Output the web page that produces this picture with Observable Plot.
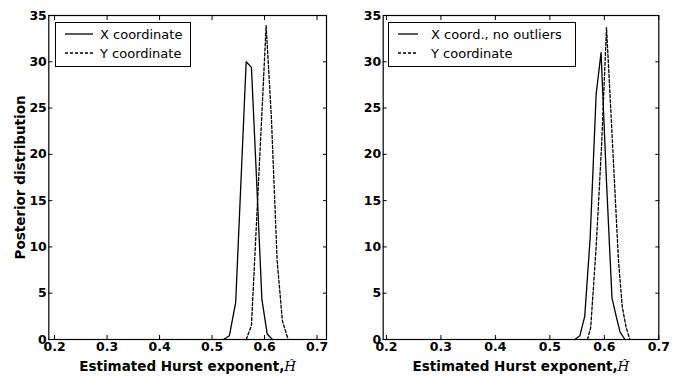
<!DOCTYPE html>
<html><head><meta charset="utf-8">
<script src="https://cdn.jsdelivr.net/npm/d3@7"></script>
<script src="https://cdn.jsdelivr.net/npm/@observablehq/plot@0.6"></script>
<style>
body{margin:0;background:#fff;}
#wrap{position:relative;width:682px;height:377px;display:flex;font-family:"DejaVu Sans",sans-serif;overflow:hidden;}
#wrap svg{display:block;}
.legend{position:absolute;}
</style></head>
<body><div id="wrap"></div>
<script>
const xTicks = [0.2, 0.3, 0.4, 0.5, 0.6, 0.7];
const yTicks = [0, 5, 10, 15, 20, 25, 30, 35];
const xLabel = "Estimated Hurst exponent,";
const hatSymbol = "Ĥ";
const yLabel = "Posterior distribution";

// Left panel
const leftSolidH = [0.522, 0.533, 0.545, 0.555, 0.565, 0.575, 0.585, 0.595, 0.605, 0.615];
const leftSolidV = [0, 0.4, 4, 17, 30, 29.4, 17, 4.3, 0.6, 0];
const leftDotH = [0.565, 0.575, 0.585, 0.595, 0.603, 0.613, 0.624, 0.634, 0.645];
const leftDotV = [0, 1.5, 13, 24.5, 33.9, 24, 8.5, 2, 0];
const leftNames = ["X coordinate", "Y coordinate"];

// Right panel
const rightSolidH = [0.546, 0.555, 0.564, 0.574, 0.585, 0.594, 0.604, 0.614, 0.623, 0.629, 0.638];
const rightSolidV = [0, 0.4, 2.5, 11, 26.5, 31, 17, 4.5, 2.2, 0.8, 0];
const rightDotH = [0.569, 0.575, 0.585, 0.595, 0.604, 0.613, 0.626, 0.633, 0.640, 0.647];
const rightDotV = [0, 1.3, 10, 21, 33.7, 23.5, 8.5, 3.5, 1.3, 0];
const rightNames = ["X coord., no outliers", "Y coordinate"];

const zip = (h, v) => h.map((d, i) => ({h: d, v: v[i]}));
const blank = () => "";

function panel({xDomain, marginLeft, marginRight, solid, dotted, showYLabel}) {
  const marks = [
    Plot.line(solid, {x: "h", y: "v", stroke: "black", strokeWidth: 1.3}),
    Plot.line(dotted, {x: "h", y: "v", stroke: "black", strokeWidth: 1.3, strokeDasharray: "3,2"}),
    Plot.frame({stroke: "black", strokeWidth: 1.2}),
    // inward ticks on all four sides
    Plot.axisX(xTicks, {anchor: "bottom", tickSize: 4, dy: -4, tickFormat: blank, label: null}),
    Plot.axisX(xTicks, {anchor: "top", tickSize: 4, dy: 4, tickFormat: blank, label: null}),
    Plot.axisY(yTicks, {anchor: "left", tickSize: 4, dx: 4, tickFormat: blank, label: null}),
    Plot.axisY(yTicks, {anchor: "right", tickSize: 4, dx: -4, tickFormat: blank, label: null}),
    // tick labels
    Plot.axisX(xTicks, {anchor: "bottom", tickSize: 0, tickPadding: 3, tickFormat: d3.format(".1f"), fontSize: 12.5, fontWeight: "bold", label: null}),
    Plot.axisY(yTicks, {anchor: "left", tickSize: 0, tickPadding: 2, tickFormat: d3.format("d"), fontSize: 12.5, fontWeight: "bold", label: null}),
    Plot.text([xLabel + hatSymbol], {frameAnchor: "bottom", dy: 27, fontSize: 13.5, fontWeight: "bold", textAnchor: "middle", lineAnchor: "middle"})
  ];
  if (showYLabel) marks.push(Plot.text([yLabel], {frameAnchor: "left", dx: -28, rotate: -90, fontSize: 13.5, fontWeight: "bold", textAnchor: "middle", lineAnchor: "middle"}));
  const svg = Plot.plot({
    width: 341, height: 377,
    marginLeft, marginRight, marginTop: 15, marginBottom: 38,
    style: {fontFamily: "DejaVu Sans", color: "black", background: "white", overflow: "visible"},
    x: {domain: xDomain},
    y: {domain: [0, 35]},
    marks
  });
  svg.querySelectorAll("text").forEach(t => {
    if (t.textContent === xLabel + hatSymbol) {
      t.textContent = "";
      const ns = "http://www.w3.org/2000/svg";
      const a = document.createElementNS(ns, "tspan"); a.textContent = xLabel; t.appendChild(a);
      const b = document.createElementNS(ns, "tspan"); b.textContent = hatSymbol;
      b.setAttribute("font-style", "italic"); b.setAttribute("font-weight", "normal");
      b.setAttribute("font-family", "DejaVu Serif"); t.appendChild(b);
    }
  });
  return svg;
}

function legend(left, width, sampleX, sampleLen, textX, names) {
  const ns = "http://www.w3.org/2000/svg";
  const s = document.createElementNS(ns, "svg");
  s.setAttribute("class", "legend");
  s.setAttribute("width", width + 2); s.setAttribute("height", 46);
  s.style.left = left + "px"; s.style.top = "22px";
  let html = `<rect x="0.5" y="0.5" width="${width}" height="44" fill="white" stroke="black" stroke-width="1"/>`;
  const ys = [12, 31];
  names.forEach((n, i) => {
    html += `<line x1="${sampleX}" x2="${sampleX + sampleLen}" y1="${ys[i]}" y2="${ys[i]}" stroke="black" stroke-width="1.3" ${i ? 'stroke-dasharray="3,2"' : ''}/>`;
    html += `<text x="${textX}" y="${ys[i]}" dy="0.35em" font-family="DejaVu Sans" font-size="13">${n}</text>`;
  });
  s.innerHTML = html;
  return s;
}

const wrap = document.getElementById("wrap");
wrap.appendChild(panel({xDomain: [0.189, 0.718], marginLeft: 48.3, marginRight: 15, solid: zip(leftSolidH, leftSolidV), dotted: zip(leftDotH, leftDotV), showYLabel: true}));
wrap.appendChild(panel({xDomain: [0.194, 0.700], marginLeft: 41.7, marginRight: 23.7, solid: zip(rightSolidH, rightSolidV), dotted: zip(rightDotH, rightDotV), showYLabel: false}));
wrap.appendChild(legend(55, 135, 10, 28, 45, leftNames));
wrap.appendChild(legend(388, 187, 10, 20, 43, rightNames));
</script>
</body></html>
